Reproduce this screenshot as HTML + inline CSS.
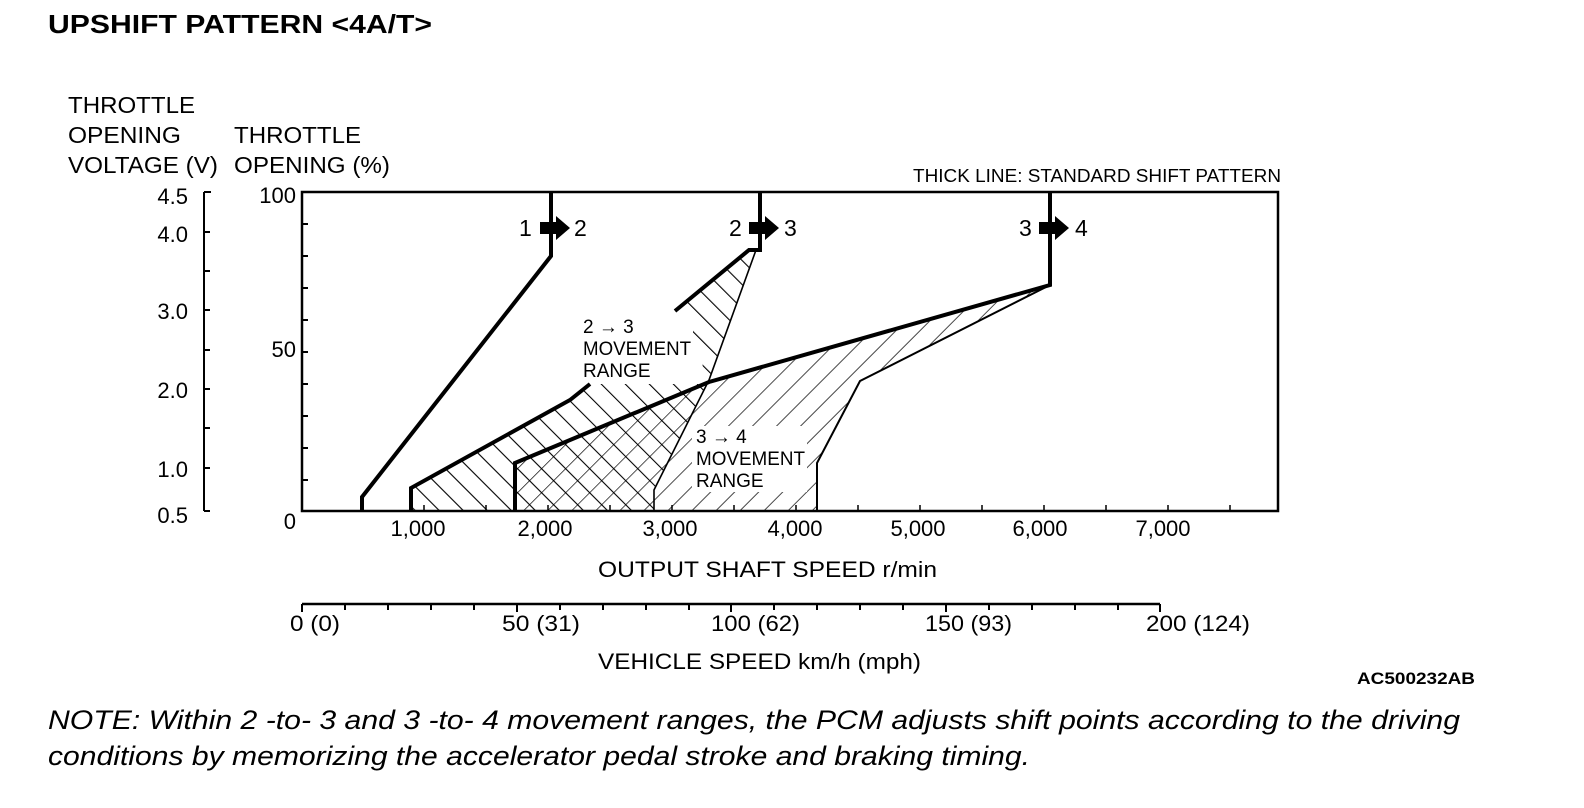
<!DOCTYPE html>
<html><head><meta charset="utf-8"><style>
html,body{margin:0;padding:0;background:#fff;}
svg{display:block;}
text{font-family:"Liberation Sans",Arial,sans-serif;fill:#000;}
</style></head><body>
<svg width="1584" height="808" viewBox="0 0 1584 808" xmlns="http://www.w3.org/2000/svg">
<defs>
<pattern id="bs" patternUnits="userSpaceOnUse" width="17" height="17" patternTransform="rotate(-45)">
<line x1="0" y1="0" x2="0" y2="17" stroke="#000" stroke-width="2.2"/>
</pattern>
<pattern id="fs" patternUnits="userSpaceOnUse" width="17" height="17" patternTransform="rotate(45)">
<line x1="0" y1="0" x2="0" y2="17" stroke="#000" stroke-width="1.4"/>
</pattern>
</defs>
<text x="48" y="33" font-size="26" font-weight="bold" textLength="384" lengthAdjust="spacingAndGlyphs">UPSHIFT PATTERN &lt;4A/T&gt;</text>
<g font-size="23">
<text x="68" y="113" textLength="127" lengthAdjust="spacingAndGlyphs">THROTTLE</text>
<text x="68" y="143" textLength="113" lengthAdjust="spacingAndGlyphs">OPENING</text>
<text x="68" y="173" textLength="150" lengthAdjust="spacingAndGlyphs">VOLTAGE (V)</text>
<text x="234" y="143" textLength="127" lengthAdjust="spacingAndGlyphs">THROTTLE</text>
<text x="234" y="173" textLength="156" lengthAdjust="spacingAndGlyphs">OPENING (%)</text>
</g>
<text x="913" y="182" font-size="18" textLength="368" lengthAdjust="spacingAndGlyphs">THICK LINE: STANDARD SHIFT PATTERN</text>
<!-- voltage axis -->
<g stroke="#000" stroke-width="2">
<line x1="204" y1="192" x2="204" y2="511"/>
<line x1="204" y1="192" x2="211" y2="192"/>
<line x1="204" y1="232" x2="210" y2="232"/>
<line x1="204" y1="271" x2="210" y2="271"/>
<line x1="204" y1="310" x2="210" y2="310"/>
<line x1="204" y1="350" x2="210" y2="350"/>
<line x1="204" y1="389" x2="210" y2="389"/>
<line x1="204" y1="428" x2="210" y2="428"/>
<line x1="204" y1="468" x2="210" y2="468"/>
<line x1="204" y1="511" x2="210" y2="511"/>
</g>
<g font-size="22" text-anchor="end">
<text x="188" y="204">4.5</text>
<text x="188" y="242">4.0</text>
<text x="188" y="319">3.0</text>
<text x="188" y="398">2.0</text>
<text x="188" y="477">1.0</text>
<text x="188" y="523">0.5</text>
<text x="296" y="203">100</text>
<text x="296" y="357">50</text>
<text x="296" y="529">0</text>
</g>
<!-- hatched regions -->
<polygon points="756,250 749,250 675,311 700,345 705,384 590,384 570,400 411,488 411,511 654,511 654,490 709,380" fill="url(#bs)"/>
<polygon points="515,511 515,463 709,382 1050,285 860,381 817,463 817,511" fill="url(#fs)"/>
<rect x="578" y="316" width="115" height="68" fill="#fff"/>
<rect x="692" y="426" width="115" height="66" fill="#fff"/>
<!-- box -->
<rect x="302" y="192" width="976" height="319" fill="none" stroke="#000" stroke-width="2.5"/>
<g stroke="#000" stroke-width="2">
<line x1="302" y1="224" x2="308" y2="224"/>
<line x1="302" y1="256" x2="308" y2="256"/>
<line x1="302" y1="288" x2="308" y2="288"/>
<line x1="302" y1="320" x2="308" y2="320"/>
<line x1="302" y1="352" x2="308" y2="352"/>
<line x1="302" y1="384" x2="308" y2="384"/>
<line x1="302" y1="416" x2="308" y2="416"/>
<line x1="302" y1="448" x2="308" y2="448"/>
<line x1="302" y1="480" x2="308" y2="480"/>
</g>
<g stroke="#000" stroke-width="1.5">
<line x1="362" y1="511" x2="362" y2="505"/><line x1="424" y1="511" x2="424" y2="505"/>
<line x1="486" y1="511" x2="486" y2="505"/><line x1="548" y1="511" x2="548" y2="505"/>
<line x1="610" y1="511" x2="610" y2="505"/><line x1="672" y1="511" x2="672" y2="505"/>
<line x1="734" y1="511" x2="734" y2="505"/><line x1="796" y1="511" x2="796" y2="505"/>
<line x1="858" y1="511" x2="858" y2="505"/><line x1="920" y1="511" x2="920" y2="505"/>
<line x1="982" y1="511" x2="982" y2="505"/><line x1="1044" y1="511" x2="1044" y2="505"/>
<line x1="1106" y1="511" x2="1106" y2="505"/><line x1="1168" y1="511" x2="1168" y2="505"/>
<line x1="1230" y1="511" x2="1230" y2="505"/>
</g>
<!-- lines -->
<g fill="none" stroke="#000" stroke-linejoin="miter">
<polyline points="551,192 551,256 362,497 362,511" stroke-width="4"/>
<polyline points="760,192 760,250 749,250 675,311" stroke-width="4"/>
<polyline points="756,250 709,380 654,490 654,511" stroke-width="1.6"/>
<polyline points="411,511 411,488 570,400 590,384" stroke-width="4"/>
<polyline points="515,511 515,463 709,382 1050,285 1050,192" stroke-width="4"/>
<polyline points="1050,285 860,381 817,463 817,511" stroke-width="2"/>
</g>
<!-- arrows -->
<g fill="#000">
<polygon points="540,222 556,222 556,216 570,228 556,240 556,234 540,234"/>
<polygon points="749,222 765,222 765,216 779,228 765,240 765,234 749,234"/>
<polygon points="1039,222 1055,222 1055,216 1069,228 1055,240 1055,234 1039,234"/>
</g>
<g font-size="23">
<text x="519" y="236">1</text><text x="574" y="236">2</text>
<text x="729" y="236">2</text><text x="784" y="236">3</text>
<text x="1019" y="236">3</text><text x="1075" y="236">4</text>
</g>
<g font-size="19">
<text x="583" y="333">2 → 3</text>
<text x="583" y="355" textLength="108" lengthAdjust="spacingAndGlyphs">MOVEMENT</text>
<text x="583" y="377">RANGE</text>
<text x="696" y="443">3 → 4</text>
<text x="696" y="465" textLength="109" lengthAdjust="spacingAndGlyphs">MOVEMENT</text>
<text x="696" y="487">RANGE</text>
</g>
<g font-size="22" text-anchor="middle">
<text x="418" y="536">1,000</text><text x="545" y="536">2,000</text>
<text x="670" y="536">3,000</text><text x="795" y="536">4,000</text>
<text x="918" y="536">5,000</text><text x="1040" y="536">6,000</text>
<text x="1163" y="536">7,000</text>
</g>
<g font-size="22">
<text x="598" y="577" textLength="339" lengthAdjust="spacingAndGlyphs">OUTPUT SHAFT SPEED r/min</text>
<text x="598" y="669" textLength="323" lengthAdjust="spacingAndGlyphs">VEHICLE SPEED km/h (mph)</text>
</g>
<!-- vehicle speed axis -->
<g stroke="#000" stroke-width="2">
<line x1="302" y1="604" x2="1160" y2="604" stroke-width="2.5"/>
<line x1="302" y1="604" x2="302" y2="612"/><line x1="345" y1="604" x2="345" y2="610"/>
<line x1="388" y1="604" x2="388" y2="610"/><line x1="431" y1="604" x2="431" y2="610"/>
<line x1="474" y1="604" x2="474" y2="610"/><line x1="517" y1="604" x2="517" y2="612"/>
<line x1="560" y1="604" x2="560" y2="610"/><line x1="603" y1="604" x2="603" y2="610"/>
<line x1="646" y1="604" x2="646" y2="610"/><line x1="689" y1="604" x2="689" y2="610"/>
<line x1="731" y1="604" x2="731" y2="612"/><line x1="774" y1="604" x2="774" y2="610"/>
<line x1="817" y1="604" x2="817" y2="610"/><line x1="860" y1="604" x2="860" y2="610"/>
<line x1="903" y1="604" x2="903" y2="610"/><line x1="946" y1="604" x2="946" y2="612"/>
<line x1="989" y1="604" x2="989" y2="610"/><line x1="1032" y1="604" x2="1032" y2="610"/>
<line x1="1075" y1="604" x2="1075" y2="610"/><line x1="1118" y1="604" x2="1118" y2="610"/>
<line x1="1160" y1="604" x2="1160" y2="612"/>
</g>
<g font-size="22">
<text x="290" y="631" textLength="50" lengthAdjust="spacingAndGlyphs">0 (0)</text>
<text x="502" y="631" textLength="78" lengthAdjust="spacingAndGlyphs">50 (31)</text>
<text x="711" y="631" textLength="89" lengthAdjust="spacingAndGlyphs">100 (62)</text>
<text x="925" y="631" textLength="87" lengthAdjust="spacingAndGlyphs">150 (93)</text>
<text x="1146" y="631" textLength="104" lengthAdjust="spacingAndGlyphs">200 (124)</text>
</g>
<text x="1357" y="684" font-size="17" font-weight="bold" textLength="118" lengthAdjust="spacingAndGlyphs">AC500232AB</text>
<g font-size="27" font-style="italic">
<text x="48" y="729" textLength="1412" lengthAdjust="spacingAndGlyphs">NOTE: Within 2 -to- 3 and 3 -to- 4 movement ranges, the PCM adjusts shift points according to the driving</text>
<text x="48" y="765" textLength="982" lengthAdjust="spacingAndGlyphs">conditions by memorizing the accelerator pedal stroke and braking timing.</text>
</g>
</svg>
</body></html>
